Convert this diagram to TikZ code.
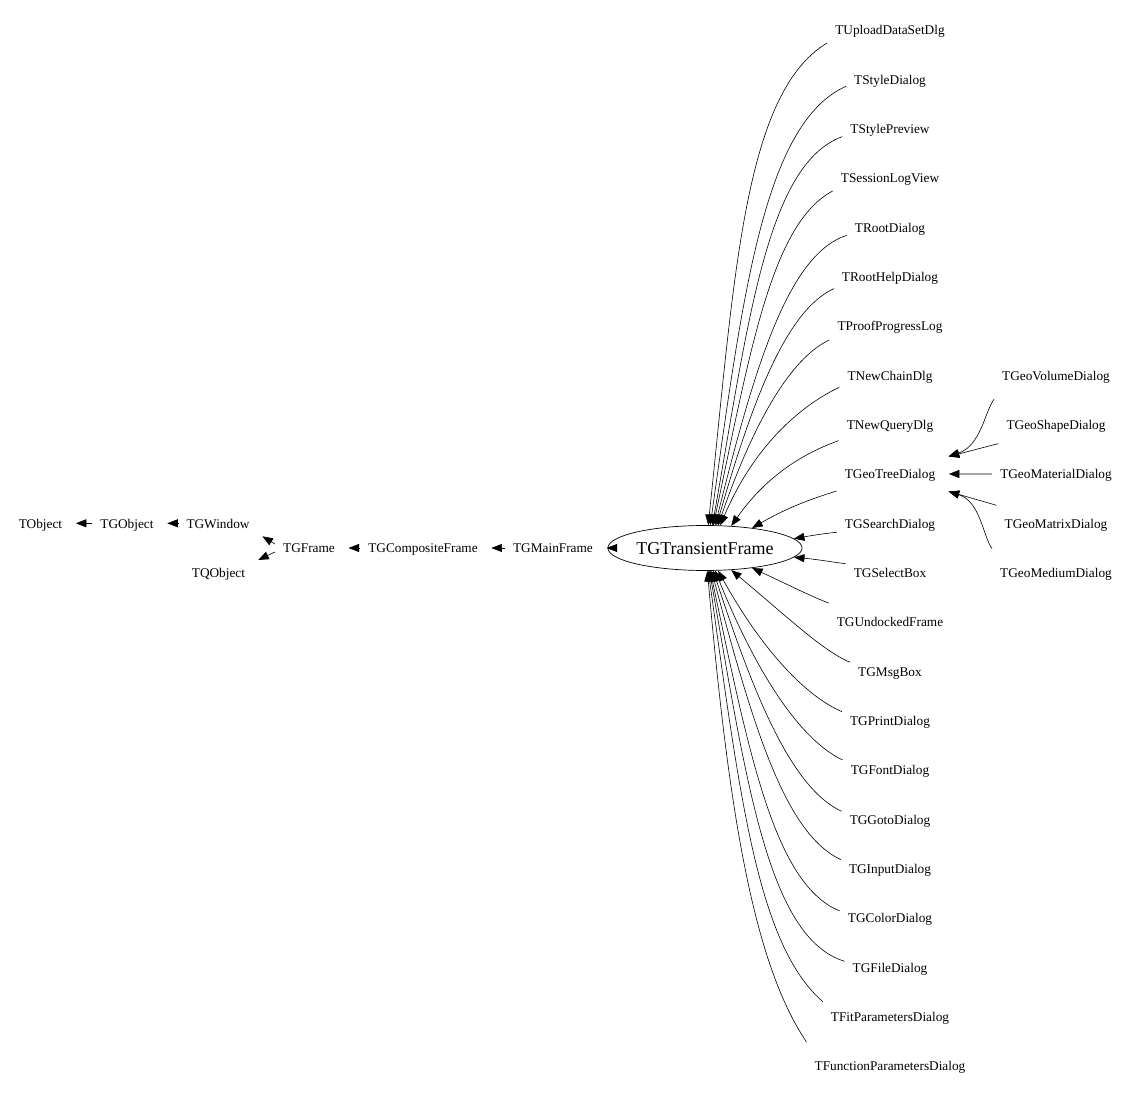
\documentclass[tikz,border=0pt]{standalone}
\usepackage{fontspec}
\setmainfont{Liberation Serif}
\usetikzlibrary{arrows.meta,shapes.geometric}

\tikzset{
    cls/.style={inner xsep=8pt, inner ysep=4pt, text height=11pt, text depth=1pt, font=\fontsize{13.3}{15}\selectfont},
    inh/.style={line width=0.6pt, -{Triangle[length=10.5pt,width=8pt]}},
    gap/.style={shorten >=5.5pt},
    curve/.style={out looseness=0.5, in looseness=1.3}
}

\begin{document}
\begin{tikzpicture}[x=1pt,y=1pt]
        \useasboundingbox (0,0) rectangle (1131,1095);

        \node[cls] (tobject) at (40.5,571.7) {TObject};
        \node[cls] (tgobject) at (127,571.7) {TGObject};
        \node[cls] (tgwindow) at (218,571.7) {TGWindow};
        \node[cls] (tqobject) at (218.5,522.4) {TQObject};
        \node[cls] (tgframe) at (309,547) {TGFrame};
        \node[cls] (tgcomp) at (423,547) {TGCompositeFrame};
        \node[cls] (tgmain) at (553,547) {TGMainFrame};
        \node[draw, ellipse, line width=0.7pt, minimum width=174pt, minimum height=45pt, inner sep=0pt,
              text height=14pt, text depth=0pt, font=\fontsize{18}{20}\selectfont] (ttf) at (705,547) {TGTransientFrame};

        \foreach \n/\t [count=\i from 0] in {upload/TUploadDataSetDlg, stydlg/TStyleDialog,
                stypre/TStylePreview, seslog/TSessionLogView, rootdlg/TRootDialog,
                roothelp/TRootHelpDialog, proof/TProofProgressLog, newchain/TNewChainDlg,
                newquery/TNewQueryDlg, geotree/TGeoTreeDialog, search/TGSearchDialog,
                selbox/TGSelectBox, undock/TGUndockedFrame, msgbox/TGMsgBox,
                print/TGPrintDialog, font/TGFontDialog, gotodlg/TGGotoDialog,
                input/TGInputDialog, color/TGColorDialog, file/TGFileDialog,
                fitpar/TFitParametersDialog, funcpar/TFunctionParametersDialog}
            \node[cls] (\n) at (890, 1065 - 49.33*\i) {\t};

        \node[cls] (geovol) at (1056,719.7) {TGeoVolumeDialog};
        \node[cls] (geoshape) at (1056,670.4) {TGeoShapeDialog};
        \node[cls] (geomat) at (1056,621) {TGeoMaterialDialog};
        \node[cls] (geomatrix) at (1056,571.7) {TGeoMatrixDialog};
        \node[cls] (geomed) at (1056,522.4) {TGeoMediumDialog};

        \draw[inh,gap] (tgobject) -- (tobject);
        \draw[inh,gap] (tgwindow) -- (tgobject);
        \draw[inh,gap] ([yshift=4pt]tgframe.west) -- (tgwindow.south east);
        \draw[inh,gap] ([yshift=-4pt]tgframe.west) -- (tqobject.north east);
        \draw[inh,gap] (tgcomp) -- (tgframe);
        \draw[inh,gap] (tgmain) -- (tgcomp);
        \draw[inh,gap] (ttf) -- (tgmain);

        \foreach \n/\s/\o/\p/\e in {upload/-13/211/84/82, stydlg/-7/204/82/77, stypre/-8/200/80/72,
                seslog/-13/208/78/70, rootdlg/-8/198/76/66, roothelp/-12/205/74/63,
                proof/-14/205/71/60, newchain/-12/205/67/56, newquery/-16/200/55/40,
                geotree/-17/198/30/23, search/-9/185/10/6, selbox/9/175/-5/354,
                undock/19/160/-25/337, msgbox/9/157/-40/320, print/9/157/-61/300,
                font/10/155/-68/294, gotodlg/8/155/-72/290, input/9/155/-75/286,
                color/7/158/-78/283, file/6/163/-80/281, fitpar/15/139/-82/278,
                funcpar/24/124/-85/276}
            \draw[inh] ([yshift=\s pt]\n.west) to[out=\o, in=\p, curve] (ttf.\e);

        \draw[inh,gap] ([yshift=-24pt]geovol.west) to[out=233, in=18, curve] ([yshift=16pt]geotree.east);
        \draw[inh,gap] ([yshift=-19pt]geoshape.west) -- ([yshift=16pt]geotree.east);
        \draw[inh,gap] (geomat) -- (geotree);
        \draw[inh,gap] ([yshift=18pt]geomatrix.west) -- ([yshift=-16pt]geotree.east);
        \draw[inh,gap] ([yshift=24pt]geomed.west) to[out=127, in=-17, curve] ([yshift=-16pt]geotree.east);

    \end{tikzpicture}
\end{document}
